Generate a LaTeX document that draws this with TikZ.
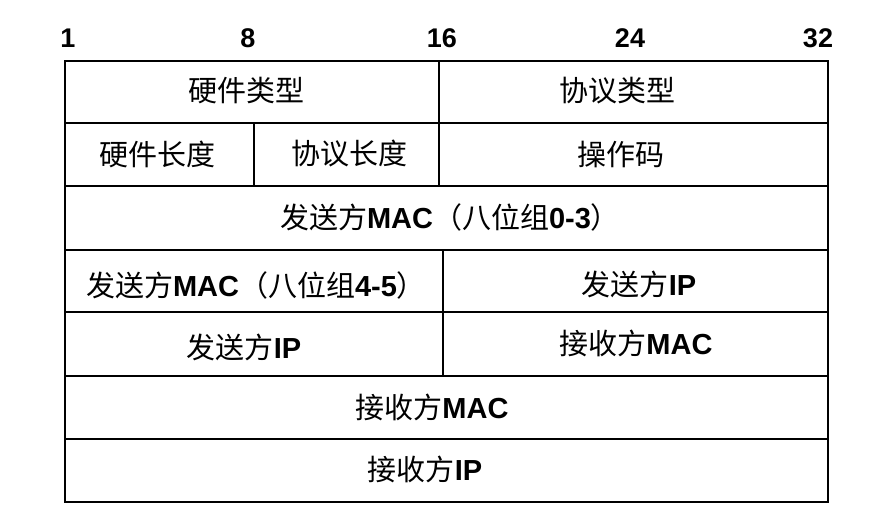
\documentclass[tikz,border=0pt]{standalone}
\usepackage{fontspec}
\setmainfont{Liberation Sans}
\newfontfamily\cjk{Noto Sans CJK SC}
\newcommand\zh[1]{{\cjk #1}}
\newcommand\en[1]{{\bfseries #1}}
\begin{document}
\begin{tikzpicture}[x=1pt,y=-1pt,
  grid/.style={line width=2.7pt,black},
  cell/.style={inner sep=0pt,anchor=center,font=\fontsize{29}{32}\selectfont},
  bitlabel/.style={inner sep=0pt,anchor=center,font=\fontsize{27}{30}\selectfont\bfseries}]
\useasboundingbox (0,0) rectangle (895,516);
% bit labels
\node[bitlabel] (b1)  at (68,38)  {1};
\node[bitlabel] (b8)  at (248,38) {8};
\node[bitlabel] (b16) at (442,38) {16};
\node[bitlabel] (b24) at (630,38) {24};
\node[bitlabel] (b32) at (818,38) {32};
% table grid
\draw[grid] (65,61) rectangle (828,502);
\foreach \y in {123,186,250,312,376,439} \draw[grid] (65,\y) -- (828,\y);
\draw[grid] (439,61) -- (439,186);
\draw[grid] (254,123) -- (254,186);
\draw[grid] (443,250) -- (443,376);
% cell texts
\node[cell] (hwtype)   at (246,91)  {\zh{硬件类型}};
\node[cell] (prtype)   at (617,91)  {\zh{协议类型}};
\node[cell] (hwlen)    at (157,154) {\zh{硬件长度}};
\node[cell] (prlen)    at (349,154) {\zh{协议长度}};
\node[cell] (opcode)   at (621,154) {\zh{操作码}};
\node[cell] (smac03)   at (450,217) {\zh{发送方}\en{MAC}\zh{（八位组}\en{0-3}\zh{）}};
\node[cell] (smac45)   at (256,285) {\zh{发送方}\en{MAC}\zh{（八位组}\en{4-5}\zh{）}};
\node[cell] (sip1)     at (639,284) {\zh{发送方}\en{IP}};
\node[cell] (sip2)     at (244,347) {\zh{发送方}\en{IP}};
\node[cell] (tmac1)    at (636,343) {\zh{接收方}\en{MAC}};
\node[cell] (tmac2)    at (432,407) {\zh{接收方}\en{MAC}};
\node[cell] (tip)      at (425,469) {\zh{接收方}\en{IP}};
\end{tikzpicture}
\end{document}
